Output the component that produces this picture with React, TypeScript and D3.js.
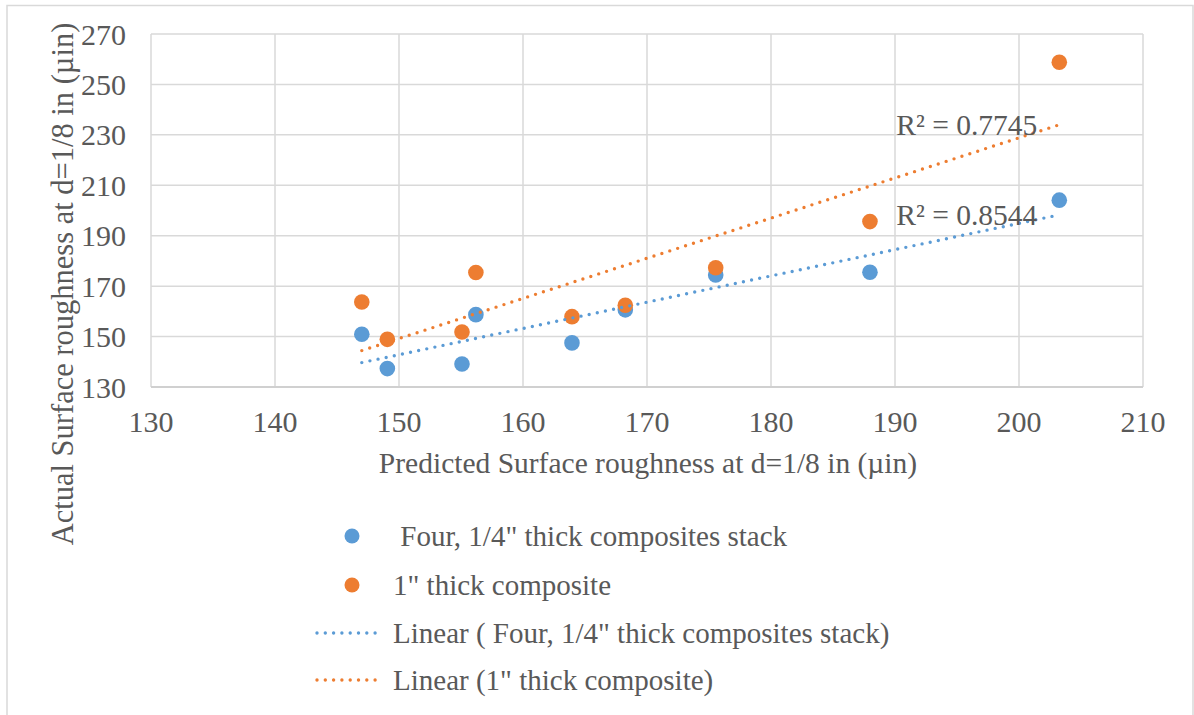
import React from "react";
import * as d3 from "d3";

const predicted = [147.0, 149.06, 155.08, 156.2, 163.95, 168.25, 175.54, 187.98, 203.25];
const stackActual = [150.9, 137.3, 139.1, 158.7, 147.5, 160.6, 174.4, 175.5, 204.1];
const singleActual = [163.7, 148.9, 151.8, 175.4, 157.9, 162.4, 177.3, 195.6, 258.8];
const xTicks = [130, 140, 150, 160, 170, 180, 190, 200, 210];
const yTicks = [130, 150, 170, 190, 210, 230, 250, 270];
const seriesNames = [" Four, 1/4\" thick composites stack", "1\" thick composite"];
const trendNames = ["Linear ( Four, 1/4\" thick composites stack)", "Linear (1\" thick composite)"];
const r2Labels = ["R² = 0.8544", "R² = 0.7745"];
const colors = ["#5B9BD5", "#ED7D31"];

const W = 1194;
const H = 715;
const margin = { left: 151, right: 1143, top: 34, bottom: 387 };
const FONT = "'Times New Roman', 'Liberation Serif', serif";
const TEXT = "#595959";
const GRID = "#d9d9d9";

function fit(xs: number[], ys: number[]) {
  const mx = d3.mean(xs)!;
  const my = d3.mean(ys)!;
  let sxy = 0, sxx = 0;
  xs.forEach((x, i) => {
    sxy += (x - mx) * (ys[i] - my);
    sxx += (x - mx) * (x - mx);
  });
  const slope = sxy / sxx;
  return (x: number) => my + slope * (x - mx);
}

export default function App() {
  const x = d3.scaleLinear().domain([130, 210]).range([margin.left, margin.right]);
  const y = d3.scaleLinear().domain([130, 270]).range([margin.bottom, margin.top]);
  const series = [stackActual, singleActual];
  const xMin = d3.min(predicted)!;
  const xMax = d3.max(predicted)!;
  const line = d3.line<[number, number]>().x((d) => x(d[0])).y((d) => y(d[1]));

  const legendRows = [536, 585, 633, 680];

  return (
    <svg width={W} height={H} style={{ position: "absolute", left: 0, top: 0, background: "#fff" }} fontFamily={FONT}>
      <rect x={7} y={5.5} width={1186} height={740} fill="#fff" stroke={GRID} strokeWidth={1.5} />
      {xTicks.map((t) => (
        <line key={"gx" + t} x1={x(t)} x2={x(t)} y1={y(270)} y2={y(130)} stroke={GRID} strokeWidth={1.5} />
      ))}
      {yTicks.map((t) => (
        <line key={"gy" + t} x1={x(130)} x2={x(210)} y1={y(t)} y2={y(t)} stroke={t === 130 ? "#d0d0d0" : GRID} strokeWidth={t === 130 ? 2 : 1.5} />
      ))}
      {yTicks.map((t) => (
        <text key={"ty" + t} x={126} y={y(t)} dy="0.35em" textAnchor="end" fontSize={30} fill={TEXT}>
          {t}
        </text>
      ))}
      {xTicks.map((t) => (
        <text key={"tx" + t} x={x(t)} y={432} textAnchor="middle" fontSize={30} fill={TEXT}>
          {t}
        </text>
      ))}
      <text x={(margin.left + margin.right) / 2 + 1} y={473} textAnchor="middle" fontSize={29.5} fill={TEXT}>
        Predicted Surface roughness at d=1/8 in (µin)
      </text>
      <text transform="translate(73,284) rotate(-90)" textAnchor="middle" fontSize={30.5} fill={TEXT}>
        Actual Surface roughness at d=1/8 in (µin)
      </text>

      {series.map((ys, si) => (
        <g key={"s" + si}>
          {ys.map((v, i) => (
            <circle key={i} cx={x(predicted[i])} cy={y(v)} r={7.8} fill={colors[si]} />
          ))}
        </g>
      ))}
      {series.map((ys, si) => {
        const f = fit(predicted, ys);
        const pts: [number, number][] = [
          [xMin, f(xMin)],
          [xMax, f(xMax)],
        ];
        return (
          <path
            key={"t" + si}
            d={line(pts)!}
            fill="none"
            stroke={colors[si]}
            strokeWidth={3.4}
            strokeDasharray="0 8.3"
            strokeLinecap="round"
          />
        );
      })}
      {series.map((ys, si) => {
        const f = fit(predicted, ys);
        return (
          <text key={"r" + si} x={x(xMax) - 22} y={y(f(xMax)) + 10} textAnchor="end" fontSize={29.5} fill={TEXT}>
            {r2Labels[si]}
          </text>
        );
      })}

      {seriesNames.map((n, i) => (
        <g key={"l" + i}>
          <circle cx={352} cy={legendRows[i]} r={7.5} fill={colors[i]} />
          <text x={393} y={legendRows[i]} dy="0.35em" fontSize={29} fill={TEXT} style={{ whiteSpace: "pre" }}>
            {n}
          </text>
        </g>
      ))}
      {trendNames.map((n, i) => (
        <g key={"lt" + i}>
          <line
            x1={317}
            x2={380}
            y1={legendRows[i + 2]}
            y2={legendRows[i + 2]}
            stroke={colors[i]}
            strokeWidth={3.4}
            strokeDasharray="0 8.3"
            strokeLinecap="round"
          />
          <text x={393} y={legendRows[i + 2]} dy="0.35em" fontSize={29} fill={TEXT}>
            {n}
          </text>
        </g>
      ))}
    </svg>
  );
}
